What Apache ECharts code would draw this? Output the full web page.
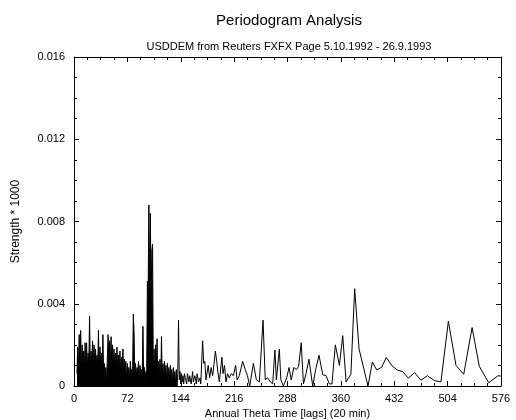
<!DOCTYPE html>
<html>
<head>
<meta charset="utf-8">
<title>Periodogram Analysis</title>
<script src="https://cdn.jsdelivr.net/npm/echarts@6/dist/echarts.min.js"></script>
<style>
  html, body { margin: 0; padding: 0; background: #fff; }
  #chart { width: 516px; height: 420px; }
</style>
</head>
<body>
<div id="chart"></div>
<script>
// dense part: one value per lag, starting at lag 4
const denseStartLag = 4;
const denseStrength = [
  0.0006, 0.0019, 0.0008, 0.0025, 0.0009, 0.0027, 0.0007, 0.0020, 0.0010, 0.0017,
  0.0008, 0.0021, 0.0010, 0.0021, 0.0008, 0.0016, 0.0011, 0.0034, 0.0009, 0.0017,
  0.0010, 0.0022, 0.0008, 0.0020, 0.0011, 0.0018, 0.0009, 0.0015, 0.0010, 0.0027,
  0.0008, 0.0019, 0.0009, 0.0016, 0.0007, 0.0025, 0.0005, 0.0011, 0.0002, 0.0009,
  0.0002, 0.0014, 0.0025, 0.0009, 0.0022, 0.0010, 0.0024, 0.0008, 0.0020, 0.0009,
  0.0018, 0.0007, 0.0016, 0.0009, 0.0019, 0.0006, 0.0015, 0.0008, 0.0017, 0.0005,
  0.0014, 0.0007, 0.0018, 0.0005, 0.0013, 0.0007, 0.0012, 0.0003, 0.0011, 0.0005,
  0.0009, 0.0003, 0.0012, 0.0006, 0.0008, 0.0004, 0.0035, 0.0026, 0.0005, 0.0011,
  0.0004, 0.0009, 0.0006, 0.0012, 0.0003, 0.0010, 0.0006, 0.0008, 0.0004, 0.0029,
  0.0003, 0.0009, 0.0002, 0.0007, 0.0004, 0.0051, 0.0045, 0.0088, 0.0045, 0.0084,
  0.0040, 0.0066, 0.0069, 0.0003, 0.0018, 0.0002, 0.0020, 0.0006, 0.0023, 0.0002,
  0.0012, 0.0005, 0.0013, 0.0001, 0.0024, 0.0004, 0.0011, 0.0002, 0.0012, 0.0006,
  0.0010, 0.0001, 0.0011, 0.0004, 0.0009, 0.0002, 0.0010, 0.0005, 0.0008, 0.0001,
  0.0009, 0.0003, 0.0007, 0.0001, 0.0008, 0.0002, 0.0006, 0.0032, 0.0003, 0.0007,
  0.0001, 0.0006, 0.0002, 0.0005, 0.0001, 0.0006
];
// below this lag the periodogram is so dense that it prints as a solid block
const solidUpToLag = 140;

// sparse part: lags get wider apart for longer periods
const sparseLags = [
  150, 152, 153, 155, 156, 158, 160, 161, 163, 165, 166, 168, 170, 171, 173.5, 175,
  176.5, 178, 181, 183, 185, 187, 189, 190.7, 192.5, 194, 196, 199.5, 201, 203, 205,
  207, 209.5, 212, 215, 218, 220, 223, 227.5, 231, 234, 237, 242, 246, 250, 255,
  258, 261, 265, 268, 271, 273, 277, 279, 282.5, 287, 290, 293, 296.5, 300, 303,
  306.5, 309.5, 313, 317, 322, 326, 330.5, 335.5, 340, 344.5, 348, 352.5, 358,
  362.5, 367, 373.5, 378.6, 384.5, 396.6, 402.5, 408.3, 415, 421.3, 429, 436,
  443.4, 451, 459.5, 468, 476.6, 486.5, 495, 505, 515.3, 525.7, 537, 546.8, 559.4,
  572, 576
];
const sparseStrength = [
  0.0004, 0.0001, 0.0006, 0.0002, 0.0005, 0.0001, 0.0007, 0.0002, 0.0005, 0.0001,
  0.0006, 0.0002, 0.0004, 0.0001, 0.0022, 0.0011, 0.0012, 0.0003, 0.0010, 0.0004,
  0.0009, 0.0005, 0.0011, 0.0017, 0.0012, 0.0007, 0.0002, 0.0014, 0.0006, 0.0010,
  0.0002, 0.0006, 0.0004, 0.0006, 0.0005, 0.0010, 0.0003, 0.0005, 0.0012, 0.0008,
  0.0005, 0.0000, 0.0011, 0.0003, 0.0002, 0.0032, 0.0003, 0.0004, 0.0002, 0.0001,
  0.00175, 0.0003, 0.0018, 0.0003, 0.0000, 0.0004, 0.0009, 0.0003, 0.0009, 0.0008,
  0.00095, 0.0021, 0.0001, 0.0006, 0.0013, 0.0000, 0.0008, 0.0015, 0.00055, 0.0005,
  0.0001, 0.0001, 0.0020, 0.0010, 0.00245, 0.0002, 0.00057, 0.00473, 0.0018, 0.0000,
  0.00117, 0.00078, 0.00091, 0.00139, 0.00098, 0.00078, 0.0007, 0.00038, 0.00065,
  0.00028, 0.0005, 0.00026, 0.0002, 0.00315, 0.0010, 0.00057, 0.00284, 0.00095,
  0.00016, 0.0005, 0.00048
];

const xTicks = [0, 72, 144, 216, 288, 360, 432, 504, 576];
const yTicks = [0, 0.004, 0.008, 0.012, 0.016];

const chartTitle = 'Periodogram Analysis';
const chartSubtitle = 'USDDEM from Reuters FXFX Page 5.10.1992 - 26.9.1993';
const xName = 'Annual Theta Time [lags] (20 min)';
const yName = 'Strength * 1000';

// [lag, strength] pairs
const allPoints = denseStrength.map((v, i) => [denseStartLag + i, v])
  .concat(sparseLags.map((lag, i) => [lag, sparseStrength[i]]));
const solidPart = allPoints.filter(p => p[0] <= solidUpToLag);
const linePart = allPoints.filter(p => p[0] >= solidUpToLag);

const FONT = '"Liberation Sans", Arial, Helvetica, sans-serif';

const chart = echarts.init(document.getElementById('chart'), null, { renderer: 'canvas' });

// shared look of the four frame axes (ticks inside, minor ticks)
const frameAxis = (extra) => Object.assign({
  type: 'value',
  axisLine: { show: true, onZero: false, lineStyle: { color: '#000', width: 1 } },
  axisTick: { show: true, inside: true, length: 5, lineStyle: { color: '#000' } },
  minorTick: { show: true, splitNumber: 4, length: 3, lineStyle: { color: '#000' } },
  splitLine: { show: false },
  minorSplitLine: { show: false }
}, extra);

const xRange = { min: xTicks[0], max: xTicks[xTicks.length - 1], interval: xTicks[1] - xTicks[0] };
const yRange = { min: yTicks[0], max: yTicks[yTicks.length - 1], interval: yTicks[1] - yTicks[0] };

const option = {
  animation: false,
  backgroundColor: '#fff',
  grid: { left: 74, right: 15, top: 57, bottom: 34, containLabel: false, outerBoundsMode: 'none' },
  graphic: [
    {
      type: 'text', x: 289, y: 21,
      style: { text: chartTitle, font: '15px ' + FONT, fill: '#000', textAlign: 'center', textVerticalAlign: 'middle' }
    },
    {
      type: 'text', x: 289, y: 47,
      style: { text: chartSubtitle, font: '11px ' + FONT, fill: '#000', textAlign: 'center', textVerticalAlign: 'middle' }
    }
  ],
  xAxis: [
    frameAxis(Object.assign({
      position: 'bottom',
      name: xName, nameLocation: 'middle', nameGap: 18,
      nameTextStyle: { fontFamily: FONT, fontSize: 11, color: '#000' },
      axisLabel: { margin: 7, fontFamily: FONT, fontSize: 11, color: '#000' }
    }, xRange)),
    frameAxis(Object.assign({ position: 'top', axisLabel: { show: false } }, xRange))
  ],
  yAxis: [
    frameAxis(Object.assign({
      position: 'left',
      name: yName, nameLocation: 'middle', nameGap: 52,
      nameTextStyle: { fontFamily: FONT, fontSize: 12, color: '#000' },
      axisLabel: {
        margin: 9, fontFamily: FONT, fontSize: 11, color: '#000',
        formatter: (v) => (v === 0 ? '0' : v.toFixed(3))
      }
    }, yRange)),
    frameAxis(Object.assign({ position: 'right', axisLabel: { show: false } }, yRange))
  ],
  series: [
    {
      // dense low-lag part, filled down to the axis
      type: 'line',
      data: solidPart,
      symbol: 'none',
      sampling: false,
      lineStyle: { color: '#000', width: 1 },
      areaStyle: { color: '#000', opacity: 1 },
      silent: true
    },
    {
      type: 'line',
      data: linePart,
      symbol: 'none',
      sampling: false,
      lineStyle: { color: '#000', width: 1 },
      silent: true
    }
  ]
};

chart.setOption(option);
</script>
</body>
</html>
